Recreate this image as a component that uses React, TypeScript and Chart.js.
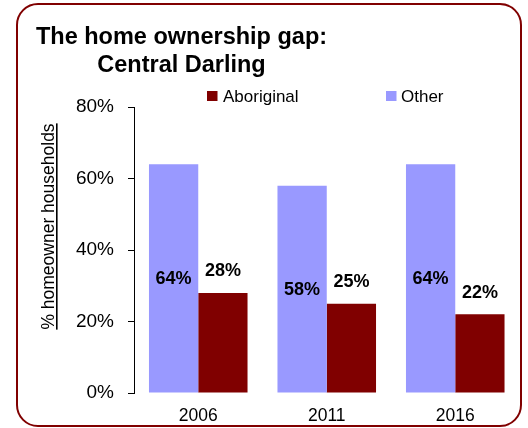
import React, { useEffect, useRef } from "react";
import { Chart, registerables } from "chart.js";

Chart.register(...registerables);

// ---- data ----
const categories = ["2006", "2011", "2016"];
const otherValues = [64, 58, 64];
const aboriginalValues = [28, 25, 22];
const yTicks = [0, 20, 40, 60, 80];
const titleLines = ["The home ownership gap:", "Central Darling"];
const yAxisTitle = "% homeowner households";
const legendOrder = ["Aboriginal", "Other"];

const FONT = "'Liberation Sans', Arial, Helvetica, sans-serif";
const OTHER_COLOR = "#9999FF";
const ABORIGINAL_COLOR = "#800000";

const decorPlugin = {
  id: "decor",
  afterDraw(chart: any) {
    const ctx = chart.ctx as CanvasRenderingContext2D;
    ctx.save();
    // Title
    ctx.fillStyle = "#000";
    ctx.font = `bold 23.5px ${FONT}`;
    ctx.textAlign = "center";
    ctx.textBaseline = "alphabetic";
    titleLines.forEach((line, i) => ctx.fillText(line, 181.5, 44 + i * 28));

    // Legend
    const legendPos = [
      { bx: 207, tx: 223 },
      { bx: 386, tx: 401 },
    ];
    ctx.font = `17px ${FONT}`;
    ctx.textAlign = "left";
    legendOrder.forEach((label, i) => {
      const ds = chart.data.datasets.find((d: any) => d.label === label);
      const p = legendPos[i];
      ctx.fillStyle = ds.backgroundColor;
      ctx.fillRect(p.bx, 91, 10.5, 10);
      ctx.fillStyle = "#000";
      ctx.fillText(label, p.tx, 101.5);
    });

    // Y axis title (rotated, underlined)
    ctx.translate(47, 226.5);
    ctx.rotate(-Math.PI / 2);
    ctx.font = `17.5px ${FONT}`;
    ctx.textAlign = "center";
    ctx.textBaseline = "alphabetic";
    ctx.fillStyle = "#000";
    ctx.fillText(yAxisTitle, 0, 7);
    const w = ctx.measureText(yAxisTitle).width;
    ctx.fillRect(-w / 2, 9, w, 1.6);
    ctx.restore();
  },
};

const labelPlugin = {
  id: "barLabels",
  afterDatasetsDraw(chart: any) {
    const ctx = chart.ctx as CanvasRenderingContext2D;
    ctx.save();
    ctx.font = `bold 18px ${FONT}`;
    ctx.fillStyle = "#000";
    ctx.textAlign = "center";
    ctx.textBaseline = "middle";
    chart.data.datasets.forEach((ds: any, di: number) => {
      const meta = chart.getDatasetMeta(di);
      meta.data.forEach((bar: any, i: number) => {
        const v = ds.data[i];
        const text = `${v}%`;
        if (ds.label === "Other") {
          ctx.fillText(text, bar.x, (bar.y + bar.base) / 2 + 1);
        } else {
          ctx.fillText(text, bar.x, bar.y - 21.5);
        }
      });
    });
    ctx.restore();
  },
};

export default function App() {
  const canvasRef = useRef<HTMLCanvasElement | null>(null);

  useEffect(() => {
    document.body.style.margin = "0";
    if (!canvasRef.current) return;
    const chart = new Chart(canvasRef.current, {
      type: "bar",
      data: {
        labels: categories,
        datasets: [
          {
            label: "Other",
            data: otherValues,
            backgroundColor: OTHER_COLOR,
            categoryPercentage: 0.767,
            barPercentage: 1,
          },
          {
            label: "Aboriginal",
            data: aboriginalValues,
            backgroundColor: ABORIGINAL_COLOR,
            categoryPercentage: 0.767,
            barPercentage: 1,
          },
        ],
      },
      options: {
        animation: false,
        responsive: false,
        devicePixelRatio: 1,
        layout: { padding: { top: 107, right: 8.5, bottom: 0, left: 0 } },
        plugins: {
          legend: { display: false },
          title: { display: false },
          tooltip: { enabled: false },
        },
        scales: {
          x: {
            grid: { display: false, drawTicks: false },
            border: { display: false },
            ticks: {
              color: "#000",
              padding: 13,
              font: { family: FONT, size: 17.5 },
            },
            afterFit: (s: any) => {
              s.height = 35;
            },
          },
          y: {
            min: 0,
            max: 80,
            afterBuildTicks: (s: any) => {
              s.ticks = yTicks.map((v) => ({ value: v }));
            },
            grid: {
              drawOnChartArea: false,
              drawTicks: true,
              tickLength: 6,
              color: "#000",
              lineWidth: 1,
            },
            border: { display: true, color: "#000", width: 1 },
            ticks: {
              color: "#000",
              padding: 14,
              font: { family: FONT, size: 19 },
              callback: (v: any) => `${v}%`,
            },
            afterFit: (s: any) => {
              s.width = 134;
            },
          },
        },
      },
      plugins: [decorPlugin, labelPlugin],
    });
    return () => chart.destroy();
  }, []);

  return (
    <div style={{ position: "relative", width: 528, height: 428, background: "#fff" }}>
      <div
        style={{
          position: "absolute",
          left: 16,
          top: 3,
          width: 506,
          height: 424,
          boxSizing: "border-box",
          border: "2.5px solid #800000",
          borderRadius: 22,
        }}
      />
      <canvas
        ref={canvasRef}
        width={528}
        height={428}
        style={{ position: "absolute", left: 0, top: 0, width: 528, height: 428 }}
      />
    </div>
  );
}
